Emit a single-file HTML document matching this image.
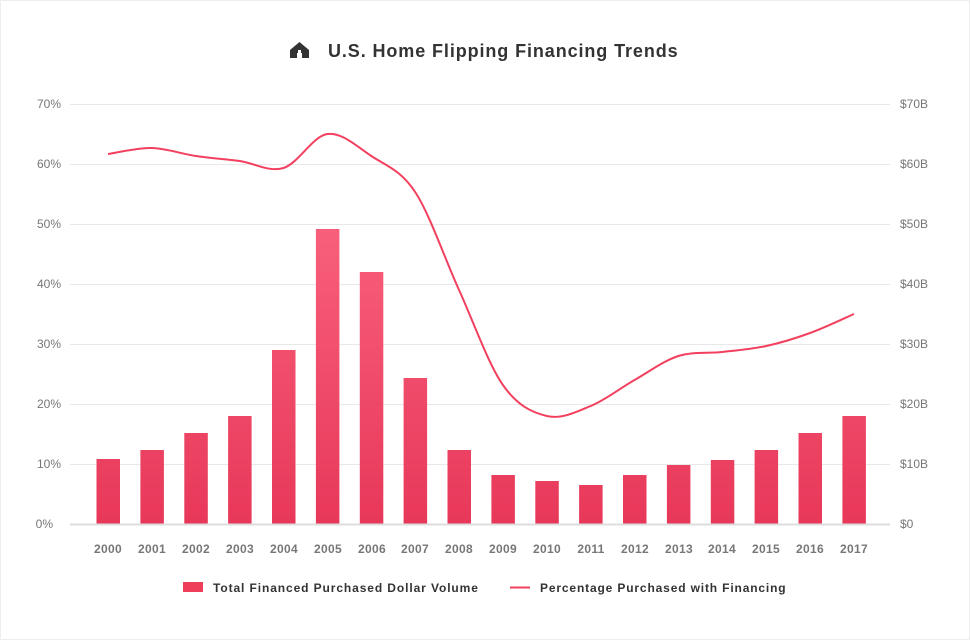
<!DOCTYPE html>
<html><head><meta charset="utf-8"><style>
html,body{margin:0;padding:0;background:#fff;}
svg{display:block;font-family:"Liberation Sans",Arial,sans-serif;}
</style></head><body>
<svg width="970" height="640" viewBox="0 0 970 640" xmlns="http://www.w3.org/2000/svg">
<defs>
<linearGradient id="g" gradientUnits="userSpaceOnUse" x1="0" y1="104" x2="0" y2="524">
<stop offset="0" stop-color="#ff7088"/><stop offset="1" stop-color="#e8385a"/>
</linearGradient>
</defs>
<rect x="0.5" y="0.5" width="969" height="639" fill="#fff" stroke="#eee"/>
<g fill="#333">
<path d="M290 58 L290 50 L299.5 42 L309 50 L309 58 L302 58 L302 53 L297 53 L297 58 Z"/>
</g>
<rect x="298" y="50" width="3" height="3" fill="#fff"/>
<text x="328" y="57" font-size="18" font-weight="bold" fill="#333" letter-spacing="0.9">U.S. Home Flipping Financing Trends</text>
<g stroke="#e8e8e8" stroke-width="1">
<line x1="70" x2="890" y1="104.5" y2="104.5"/>
<line x1="70" x2="890" y1="164.5" y2="164.5"/>
<line x1="70" x2="890" y1="224.5" y2="224.5"/>
<line x1="70" x2="890" y1="284.5" y2="284.5"/>
<line x1="70" x2="890" y1="344.5" y2="344.5"/>
<line x1="70" x2="890" y1="404.5" y2="404.5"/>
<line x1="70" x2="890" y1="464.5" y2="464.5"/>
</g>
<g font-size="12" fill="#777" text-anchor="end">
<text x="61" y="108">70%</text><text x="61" y="168">60%</text><text x="61" y="228">50%</text>
<text x="61" y="288">40%</text><text x="61" y="348">30%</text><text x="61" y="408">20%</text>
<text x="61" y="468">10%</text><text x="53" y="528">0%</text>
</g>
<g font-size="12" fill="#777" text-anchor="start">
<text x="900" y="108">$70B</text><text x="900" y="168">$60B</text><text x="900" y="228">$50B</text>
<text x="900" y="288">$40B</text><text x="900" y="348">$30B</text><text x="900" y="408">$20B</text>
<text x="900" y="468">$10B</text><text x="900" y="528">$0</text>
</g>
<g fill="url(#g)">
<rect x="96.5" y="459" width="23.5" height="65"/>
<rect x="140.4" y="450" width="23.5" height="74"/>
<rect x="184.3" y="433" width="23.5" height="91"/>
<rect x="228.1" y="416" width="23.5" height="108"/>
<rect x="272" y="350" width="23.5" height="174"/>
<rect x="315.9" y="229" width="23.5" height="295"/>
<rect x="359.8" y="272" width="23.5" height="252"/>
<rect x="403.6" y="378" width="23.5" height="146"/>
<rect x="447.5" y="450" width="23.5" height="74"/>
<rect x="491.4" y="475" width="23.5" height="49"/>
<rect x="535.3" y="481" width="23.5" height="43"/>
<rect x="579.1" y="485" width="23.5" height="39"/>
<rect x="623" y="475" width="23.5" height="49"/>
<rect x="666.9" y="465" width="23.5" height="59"/>
<rect x="710.8" y="460" width="23.5" height="64"/>
<rect x="754.6" y="450" width="23.5" height="74"/>
<rect x="798.5" y="433" width="23.5" height="91"/>
<rect x="842.4" y="416" width="23.5" height="108"/>
</g>
<line x1="70" x2="890" y1="524.5" y2="524.5" stroke="#ddd" stroke-width="2"/>
<path id="ln" fill="none" stroke="#f2405e" stroke-width="2" d=""/>
<g font-size="12" font-weight="bold" fill="#777" text-anchor="middle" letter-spacing="0.3">
<text x="108" y="553">2000</text><text x="152" y="553">2001</text><text x="196" y="553">2002</text>
<text x="240" y="553">2003</text><text x="284" y="553">2004</text><text x="328" y="553">2005</text>
<text x="372" y="553">2006</text><text x="415" y="553">2007</text><text x="459" y="553">2008</text>
<text x="503" y="553">2009</text><text x="547" y="553">2010</text><text x="591" y="553">2011</text>
<text x="635" y="553">2012</text><text x="679" y="553">2013</text><text x="722" y="553">2014</text>
<text x="766" y="553">2015</text><text x="810" y="553">2016</text><text x="854" y="553">2017</text>
</g>
<rect x="183" y="582" width="20" height="10" fill="#ee3f5a"/>
<text x="213" y="592" font-size="12" font-weight="bold" fill="#333" letter-spacing="0.9">Total Financed Purchased Dollar Volume</text>
<line x1="510" x2="530" y1="587.5" y2="587.5" stroke="#f2405e" stroke-width="2"/>
<text x="540" y="592" font-size="12" font-weight="bold" fill="#333" letter-spacing="0.85">Percentage Purchased with Financing</text>
</svg>
<script>
var ys=[154,148,156,161,168,134,156,192,290,385,416,406,380,356,352,346,333,314];
var p=ys.map(function(y,i){return [108+i*43.88,y];});
var d="M"+p[0][0]+" "+p[0][1];
for(var i=0;i<p.length-1;i++){
var p0=p[i-1]||p[i],p1=p[i],p2=p[i+1],p3=p[i+2]||p[i+1],t=6;
d+=" C"+(p1[0]+(p2[0]-p0[0])/t)+" "+(p1[1]+(p2[1]-p0[1])/t)+" "+(p2[0]-(p3[0]-p1[0])/t)+" "+(p2[1]-(p3[1]-p1[1])/t)+" "+p2[0]+" "+p2[1];
}
document.getElementById("ln").setAttribute("d",d);
</script>
</body></html>
